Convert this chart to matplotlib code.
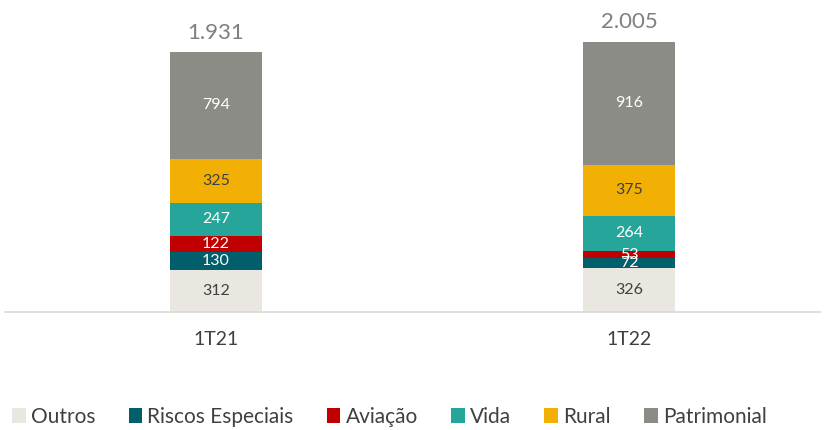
import matplotlib.pyplot as plt
import numpy as np
from matplotlib.patches import Patch

plt.rcParams["font.family"] = ["Lato", "DejaVu Sans"]

PERIODS = ["1T21", "1T22"]
SEGMENTS = ["Outros", "Riscos Especiais", "Aviação", "Vida", "Rural", "Patrimonial"]
OUTROS = [312, 326]
RISCOS = [130, 72]
AVIACAO = [122, 53]
VIDA = [247, 264]
RURAL = [325, 375]
PATRIMONIAL = [794, 916]
TOTAL_LABELS = ["1.931", "2.005"]

COLORS = ["#EAE7E0", "#005F6B", "#C00000", "#26A69A", "#F2B005", "#8C8C86"]
TEXT_COLORS = ["#404040", "white", "white", "white", "#404040", "white"]

series = [OUTROS, RISCOS, AVIACAO, VIDA, RURAL, PATRIMONIAL]

fig = plt.figure(figsize=(8.25, 4.3), dpi=100)
ax = fig.add_axes([0.006, 0.2744, 0.988, 0.7256])

x = np.arange(len(PERIODS))
bottom = np.zeros(len(PERIODS))
for vals, color, tc in zip(series, COLORS, TEXT_COLORS):
    vals = np.array(vals)
    ax.bar(x, vals, bottom=bottom, width=0.223, color=color, edgecolor="none")
    for xi, b, v in zip(x, bottom, vals):
        ax.text(xi, b + v / 2, str(v), ha="center", va="center",
                color=tc, fontsize=11.5)
    bottom = bottom + vals

for xi, top, lab in zip(x, bottom, TOTAL_LABELS):
    ax.text(xi, top + 70, lab, ha="center", va="bottom", color="#7F7F7F", fontsize=16)

ax.set_xlim(-0.511, 1.462)
ax.set_ylim(0, 2316)
ax.set_yticks([])
ax.set_xticks(x)
ax.set_xticklabels(PERIODS, fontsize=14, color="#404040")
ax.tick_params(axis="x", length=0, pad=14)
for side in ["top", "left", "right"]:
    ax.spines[side].set_visible(False)
ax.spines["bottom"].set_color("#D9D9D9")
ax.spines["bottom"].set_linewidth(1.2)

handles = [Patch(facecolor=c, edgecolor="none") for c in COLORS]
fig.legend(handles, SEGMENTS, loc="center", bbox_to_anchor=(0.472, 0.03), ncol=6,
           frameon=False, fontsize=15, handlelength=0.65, handleheight=0.75,
           handletextpad=0.25, columnspacing=1.6, labelcolor="#404040")

fig.savefig("out.png", dpi=100)
